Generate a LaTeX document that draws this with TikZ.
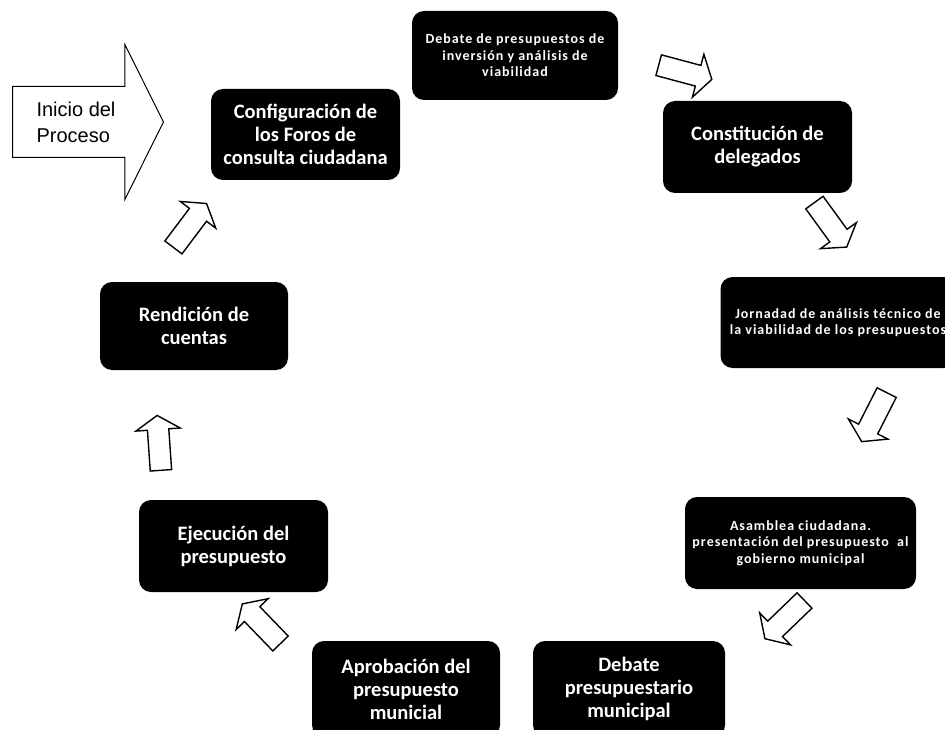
\documentclass[tikz,border=0pt]{standalone}
\usepackage{fontspec}
\setmainfont{Carlito}
\newfontfamily\arialfont{Liberation Sans}
\usetikzlibrary{shapes.arrows}

\begin{document}
\begin{tikzpicture}[x=1pt, y=-1pt,
	etapa/.style={fill=black, text=white, rounded corners=12pt, align=center, minimum width=189pt, minimum height=91pt, inner sep=2pt, font=\fontsize{20.5}{23}\selectfont\bfseries},
	etapachica/.style={etapa, font=\fontsize{14}{16.5}\selectfont\bfseries\addfontfeature{LetterSpace=7}},
	flecha/.style={single arrow, draw, fill=white, line width=1.4pt, minimum height=55pt, inner xsep=0pt, inner ysep=10pt, single arrow head extend=11.5pt, single arrow tip angle=115, anchor=tail}]
	\useasboundingbox (0,0) rectangle (945,730);
	\clip (0,0) rectangle (945,730);

	\node[single arrow, draw, fill=white, line width=1pt, minimum height=151pt, inner xsep=0pt, inner ysep=35pt, single arrow head extend=42pt, single arrow tip angle=127, anchor=tail] (inicio) at (12,122) {};
	\node[font=\arialfont\fontsize{20}{26}\selectfont, align=left, anchor=west] (inicio texto) at (33,122) {Inicio del\\Proceso};

	\node[etapa] (foros) at (305.5,134.5) {Configuración de\\los Foros de\\consulta ciudadana};
	\node[etapachica, minimum width=206pt, minimum height=89pt] (debate) at (515,55.5) {Debate de presupuestos de\\inversión y análisis de\\viabilidad};
	\node[etapa, minimum height=92pt] (delegados) at (757.5,147) {Constitución de\\delegados};
	\node[etapachica, minimum width=235pt] (jornada) at (838,322.5) {Jornadad de análisis técnico de\\la viabilidad de los presupuestos};
	\node[etapachica, minimum width=231pt, minimum height=92pt] (asamblea) at (800.5,543) {Asamblea ciudadana.\\presentación del presupuesto\ \ al\\gobierno municipal};
	\node[etapa, minimum width=192pt, minimum height=96pt] (debate municipal) at (629,689) {Debate\\presupuestario\\municipal};
	\node[etapa, minimum width=188pt, minimum height=96pt] (aprobacion) at (406,689) {Aprobación del\\presupuesto\\municial};
	\node[etapa, minimum height=92pt] (ejecucion) at (233.5,546) {Ejecución del\\presupuesto};
	\node[etapa, minimum width=188pt, minimum height=88pt] (rendicion) at (194,326) {Rendición de\\cuentas};

	\node[flecha, rotate=-15] (f1) at (658,65) {};
	\node[flecha, rotate=-54] (f2) at (814,202) {};
	\node[flecha, rotate=-117] (f3) at (887,392) {};
	\node[flecha, rotate=-136] (f4) at (805,600) {};
	\node[flecha, rotate=134] (f5) at (281,644) {};
	\node[flecha, rotate=94] (f6) at (161,471) {};
	\node[flecha, rotate=53] (f7) at (173,248) {};

\end{tikzpicture}
\end{document}
